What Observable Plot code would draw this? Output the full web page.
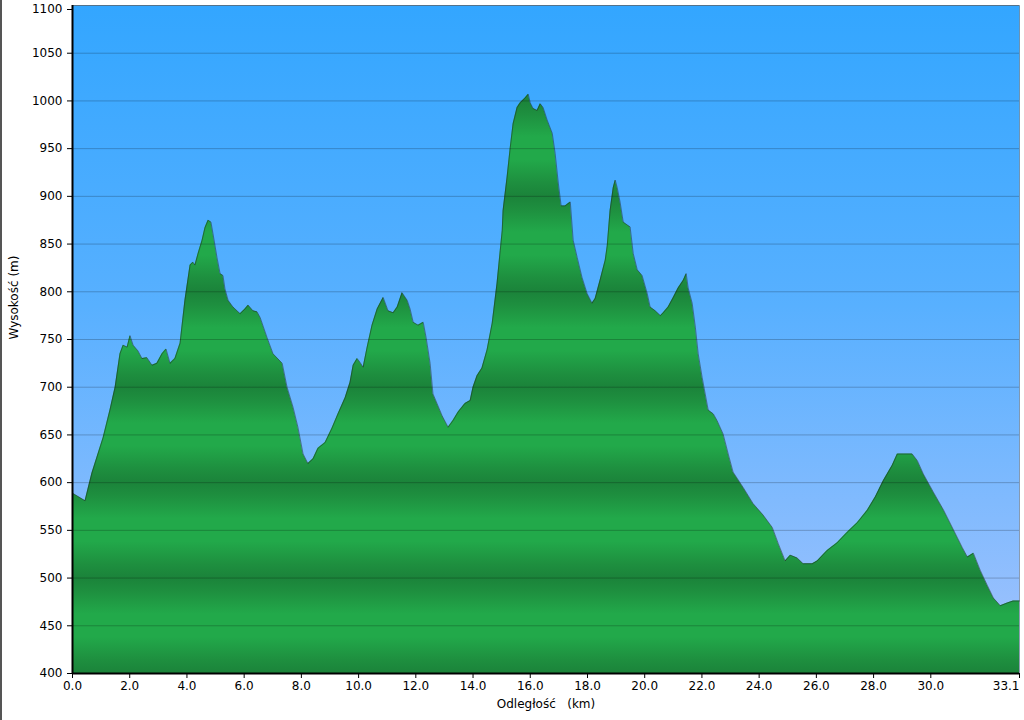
<!DOCTYPE html>
<html><head><meta charset="utf-8">
<script src="https://cdn.jsdelivr.net/npm/d3@7"></script>
<script src="https://cdn.jsdelivr.net/npm/@observablehq/plot@0.6"></script>
<style>
html,body{margin:0;padding:0;background:#fff;}
body{width:1024px;height:720px;overflow:hidden;position:relative;}
body::before{content:"";position:absolute;left:0;top:0;width:2px;height:720px;background:#555;z-index:2;}
#chart svg{display:block;}
</style></head><body><div id="chart"></div>
<script>
const distanceKm = [0.0,0.44,0.68,1.07,1.31,1.49,1.66,1.77,1.91,2.01,
2.12,2.29,2.43,2.60,2.78,2.95,3.13,3.27,3.41,3.58,
3.76,3.93,4.11,4.21,4.28,4.39,4.53,4.63,4.74,4.84,
4.91,5.05,5.16,5.26,5.33,5.44,5.61,5.86,6.03,6.14,
6.31,6.45,6.56,6.80,7.01,7.33,7.50,7.71,7.88,8.06,
8.23,8.41,8.58,8.83,9.07,9.28,9.53,9.70,9.81,9.95,
10.05,10.16,10.30,10.47,10.65,10.86,11.03,11.21,11.35,11.52,
11.70,11.80,11.91,12.08,12.26,12.36,12.50,12.60,12.74,12.92,
13.13,13.30,13.48,13.72,13.90,14.00,14.14,14.31,14.49,14.67,
14.84,14.95,15.02,15.05,15.19,15.30,15.40,15.54,15.65,15.82,
15.93,16.00,16.10,16.24,16.35,16.45,16.59,16.77,16.87,16.98,
17.08,17.22,17.40,17.50,17.64,17.81,17.99,18.16,18.27,18.44,
18.62,18.69,18.79,18.90,18.97,19.04,19.14,19.25,19.39,19.49,
19.60,19.74,19.91,20.09,20.19,20.37,20.55,20.65,20.82,21.00,
21.17,21.35,21.45,21.52,21.66,21.77,21.87,22.01,22.22,22.40,
22.53,22.74,22.92,23.09,23.44,23.79,24.14,24.46,24.67,24.91,
25.09,25.33,25.54,25.86,26.03,26.38,26.73,27.08,27.43,27.78,
28.06,28.34,28.65,28.83,29.04,29.35,29.53,29.74,30.09,30.45,
30.80,31.10,31.28,31.49,31.73,31.98,32.19,32.43,32.68,32.88,
33.1];
const elevationM = [589,581,610,647,676,700,735,744,742,754,
744,738,730,731,723,725,735,740,725,730,
746,791,828,831,828,840,854,867,875,873,
861,836,819,817,803,791,784,777,782,786,
780,779,773,752,735,725,700,679,658,630,
620,625,636,642,657,672,689,705,723,730,
726,721,742,765,782,794,780,778,784,799,
791,782,768,765,768,752,725,693,683,670,
658,665,674,683,686,700,712,720,739,767,
809,843,864,885,920,951,976,993,998,1003,
1007,998,992,990,997,993,980,966,945,914,
890,890,894,854,836,815,798,788,793,812,
833,848,885,909,917,909,894,873,870,868,
840,823,817,798,784,780,775,778,784,794,
804,812,819,804,788,763,735,710,676,672,
665,651,630,611,595,578,566,553,536,518,
524,521,515,515,518,529,537,548,558,571,
585,602,618,630,630,630,623,609,590,571,
550,532,522,526,508,492,479,471,474,476,
476];
const yTicks = [400,450,500,550,600,650,700,750,800,850,900,950,1000,1050,1100];
const xTicks = [0,2,4,6,8,10,12,14,16,18,20,22,24,26,28,30];
const xEndTick = [33.1];
const xLabel = "Odległość\u00a0\u00a0\u00a0(km)";
const yLabel = "Wysokość (m)";

const data = distanceKm.map((km, i) => ({km, elev: elevationM[i]}));
const yMin = yTicks[0], yMax = yTicks[yTicks.length - 1];
const xMax = xEndTick[0];

const defsMark = (index, scales) => {
  const y = scales.y;
  const defs = d3.create("svg:defs");
  const sky = defs.append("linearGradient").attr("id", "skyGrad")
    .attr("x1", 0).attr("y1", 0).attr("x2", 0).attr("y2", 1);
  [[0, "#33a6ff"], [0.45, "#58b0ff"], [1, "#a4c3fd"]].forEach(([o, c]) =>
    sky.append("stop").attr("offset", o).attr("stop-color", c));
  const band = defs.append("linearGradient").attr("id", "bandGrad")
    .attr("gradientUnits", "userSpaceOnUse").attr("spreadMethod", "repeat")
    .attr("x1", 0).attr("x2", 0)
    .attr("y1", y(yTicks[2])).attr("y2", y(yTicks[0]));
  [[0, "#1b833a"], [0.14, "#1e8f3f"], [0.38, "#22a94a"], [0.62, "#22a94a"], [0.86, "#1e8f3f"], [1, "#1b833a"]]
    .forEach(([o, c]) => band.append("stop").attr("offset", o).attr("stop-color", c));
  return defs.node();
};

const fmtY = d => String(d);
const chart = Plot.plot({
  width: 1024,
  height: 720,
  marginLeft: 72,
  marginRight: 5,
  marginTop: 5,
  marginBottom: 47,
  style: {fontFamily: "'DejaVu Sans', Verdana, sans-serif", fontSize: "12px", color: "#000", background: "transparent"},
  x: {domain: [0, xMax]},
  y: {domain: [yMin, yMax]},
  marks: [
    defsMark,
    Plot.frame({fill: "url(#skyGrad)"}),
    Plot.areaY(data, {x: "km", y1: yMin, y2: "elev", fill: "url(#bandGrad)", curve: "linear"}),
    Plot.line(data, {x: "km", y: "elev", stroke: "#1e2a26", strokeOpacity: 0.5, strokeWidth: 1}),
    Plot.gridY(yTicks, {stroke: "#000", strokeOpacity: 0.22}),
    Plot.frame({stroke: "#000", strokeOpacity: 0.3}),
    Plot.axisY(yTicks.slice(0, -1), {tickSize: 5, tickPadding: 5, label: null, fontSize: 12, tickFormat: fmtY}),
    Plot.axisY([yMax], {tickSize: 5, tickPadding: 5, label: null, fontSize: 12, tickFormat: fmtY, dy: 4}),
    Plot.axisX(xTicks, {tickSize: 5, tickPadding: 3, label: null, fontSize: 12, tickFormat: d => d.toFixed(1)}),
    Plot.axisX(xEndTick, {tickSize: 5, tickPadding: 3, label: null, fontSize: 12, textAnchor: "end", tickFormat: d => d.toFixed(1)}),
    Plot.ruleX([0], {stroke: "#000", strokeWidth: 2}),
    Plot.ruleY([yMin], {stroke: "#000", strokeWidth: 2}),
    Plot.text([yLabel], {text: d => d, frameAnchor: "left", dx: -58, rotate: -90, fontSize: 12, fill: "#000"}),
    Plot.text([xLabel], {text: d => d, frameAnchor: "bottom", dy: 34, fontSize: 12, fill: "#000"})
  ]
});
document.getElementById("chart").appendChild(chart);
</script>
</body></html>
